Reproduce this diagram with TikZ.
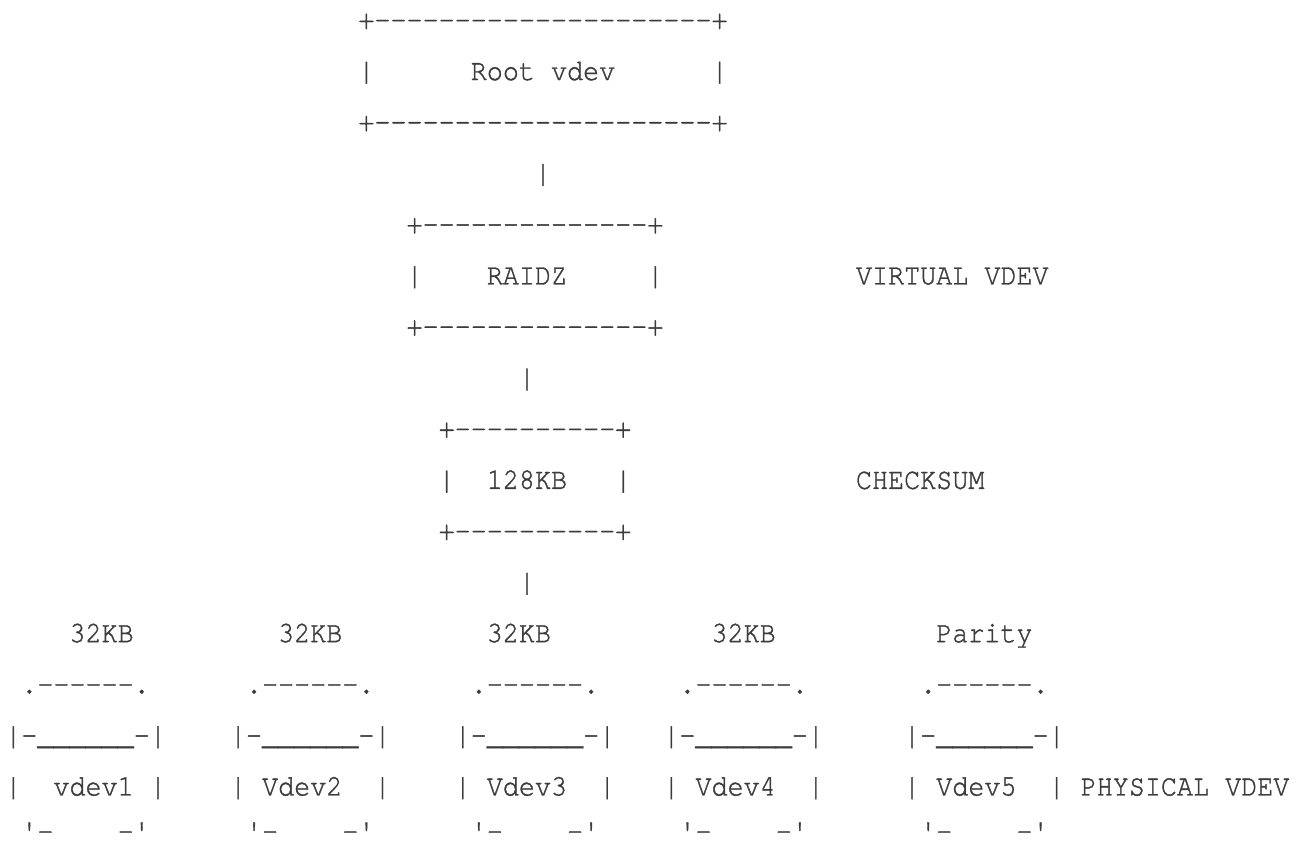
\documentclass[tikz,border=0pt]{standalone}
\usepackage{fontspec}
\setmonofont{TeX Gyre Cursor}[FakeStretch=0.8917, FakeBold=1.2]
\definecolor{ink}{HTML}{3C3C3C}
\frenchspacing

\begin{document}
\begin{tikzpicture}[x=16.05pt, y=-51.1pt,
    ascii/.style={anchor=base west, inner sep=0pt, outer sep=0pt, text=ink,
      font=\ttfamily\fontsize{30}{51.1}\selectfont}]
  \useasboundingbox (-0.33, -0.566) rectangle (80.6, 15.932);

  % root vdev
  \node[ascii] (rootTop) at (22, 0) {+---------------------+};
  \node[ascii] (root)    at (22, 1) {|~~~~~~Root vdev~~~~~~|};
  \node[ascii] (rootBot) at (22, 2) {+---------------------+};
  \node[ascii] (link1)   at (33, 3) {|};

  % raidz
  \node[ascii] (raidzTop) at (25, 4) {+--------------+};
  \node[ascii] (raidz)    at (25, 5) {|~~~~RAIDZ~~~~~|};
  \node[ascii] (raidzBot) at (25, 6) {+--------------+};
  \node[ascii] (virtual)  at (53, 5) {VIRTUAL VDEV};
  \node[ascii] (link2)    at (32, 7) {|};

  % block
  \node[ascii] (blockTop) at (27, 8) {+----------+};
  \node[ascii] (block)    at (27, 9) {|~~128KB~~~|};
  \node[ascii] (blockBot) at (27, 10) {+----------+};
  \node[ascii] (checksum) at (53, 9) {CHECKSUM};
  \node[ascii] (link3)    at (32, 11) {|};

  % disks
  \node[ascii] (size1) at (4, 12) {32KB};
  \node[ascii] (size2) at (17, 12) {32KB};
  \node[ascii] (size3) at (30, 12) {32KB};
  \node[ascii] (size4) at (44, 12) {32KB};
  \node[ascii] (size5) at (58, 12) {Parity};

  \node[ascii] (cap1) at (1, 13) {.------.};
  \node[ascii] (cap2) at (15, 13) {.------.};
  \node[ascii] (cap3) at (29, 13) {.------.};
  \node[ascii] (cap4) at (42, 13) {.------.};
  \node[ascii] (cap5) at (57, 13) {.------.};

  \node[ascii] (rim1) at (0, 14) {|-\_\_\_\_\_\_-|};
  \node[ascii] (rim2) at (14, 14) {|-\_\_\_\_\_\_-|};
  \node[ascii] (rim3) at (28, 14) {|-\_\_\_\_\_\_-|};
  \node[ascii] (rim4) at (41, 14) {|-\_\_\_\_\_\_-|};
  \node[ascii] (rim5) at (56, 14) {|-\_\_\_\_\_\_-|};

  \node[ascii] (vdev1) at (0, 15) {|~~vdev1~|};
  \node[ascii] (vdev2) at (14, 15) {|~Vdev2~~|};
  \node[ascii] (vdev3) at (28, 15) {|~Vdev3~~|};
  \node[ascii] (vdev4) at (41, 15) {|~Vdev4~~|};
  \node[ascii] (vdev5) at (56, 15) {|~Vdev5~~|};
  \node[ascii] (physical) at (67, 15) {PHYSICAL VDEV};

  \node[ascii] (foot1) at (1, 15.88) {'-~~~~-'};
  \node[ascii] (foot2) at (15, 15.88) {'-~~~~-'};
  \node[ascii] (foot3) at (29, 15.88) {'-~~~~-'};
  \node[ascii] (foot4) at (42, 15.88) {'-~~~~-'};
  \node[ascii] (foot5) at (57, 15.88) {'-~~~~-'};
\end{tikzpicture}
\end{document}
